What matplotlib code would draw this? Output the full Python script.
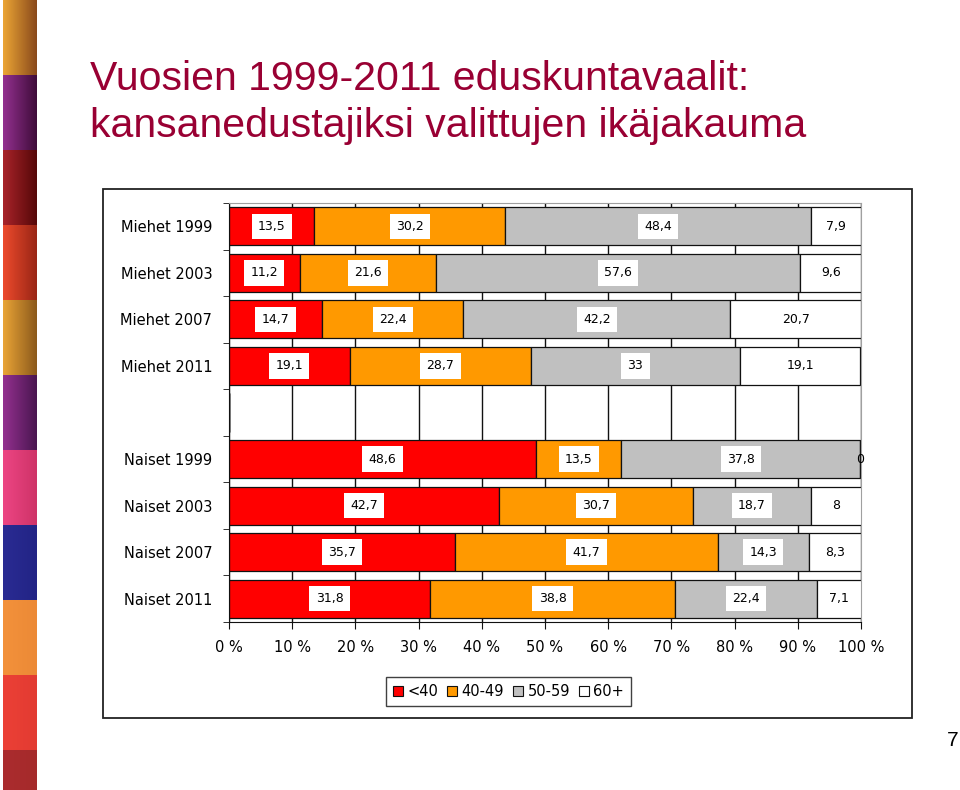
import matplotlib.pyplot as plt
import matplotlib.patches as mpatches
import numpy as np

# rows top to bottom, the empty one separates men and women
rows = ['Miehet 1999', 'Miehet 2003', 'Miehet 2007', 'Miehet 2011', '',
        'Naiset 1999', 'Naiset 2003', 'Naiset 2007', 'Naiset 2011']
groups = ['<40', '40-49', '50-59', '60+']
under40 = [13.5, 11.2, 14.7, 19.1, None, 48.6, 42.7, 35.7, 31.8]
age40_49 = [30.2, 21.6, 22.4, 28.7, None, 13.5, 30.7, 41.7, 38.8]
age50_59 = [48.4, 57.6, 42.2, 33, None, 37.8, 18.7, 14.3, 22.4]
over60 = [7.9, 9.6, 20.7, 19.1, None, 0, 8, 8.3, 7.1]
colors = ['#ff0000', '#ff9900', '#c0c0c0', '#ffffff']
xticks = [0, 10, 20, 30, 40, 50, 60, 70, 80, 90, 100]

# colours of the decorative stripe on the left (light, dark)
stripe = [('#eba535', '#8a4a1c'), ('#93308f', '#3f0c3a'), ('#a8232a', '#560808'),
          ('#ec4a2c', '#9a2616'), ('#e9a436', '#8c5a1c'), ('#93308f', '#4a1650'),
          ('#ec4583', '#cf3368'), ('#2a2b93', '#222485'), ('#f3913b', '#ec8a36'),
          ('#ec4036', '#e23b32'), ('#ab2c2e', '#a52a2b')]

fig = plt.figure(figsize=(9.6, 7.9), dpi=100)

# left stripe, each block shaded from light (left) to dark (right)
sax = fig.add_axes([3 / 960, 0, 33 / 960, 1])
seg_h = 75
n_px = 790
img = np.ones((n_px, 40, 3))
t = np.linspace(0, 1, 40)
for i, (c1, c2) in enumerate(stripe):
    a = np.array(plt.matplotlib.colors.to_rgb(c1))
    b = np.array(plt.matplotlib.colors.to_rgb(c2))
    grad = a[None, :] * (1 - t[:, None]) + b[None, :] * t[:, None]
    img[i * seg_h:min((i + 1) * seg_h, n_px)] = grad[None, :, :]
sax.imshow(img, aspect='auto', interpolation='bilinear')
sax.axis('off')

# title
title_col = '#990033'
fig.text(90 / 960, 1 - 90 / 790, 'Vuosien 1999-2011 eduskuntavaalit:',
         fontsize=29.5, color=title_col, family='Liberation Sans', va='baseline')
fig.text(90 / 960, 1 - 137 / 790, 'kansanedustajiksi valittujen ikäjakauma',
         fontsize=29.5, color=title_col, family='Liberation Sans', va='baseline')
fig.text(958 / 960, 1 - 746 / 790, '7', fontsize=15, family='Liberation Sans',
         ha='right', va='baseline')

# frame around the chart picture
fig.patches.append(mpatches.Rectangle((103 / 960, 1 - 718 / 790), 809 / 960, 529 / 790,
                                      transform=fig.transFigure, fill=False,
                                      edgecolor='#222222', lw=1.3))

ax = fig.add_axes([229 / 960, 1 - 622 / 790, 632 / 960, 419 / 790])
y = np.arange(len(rows))
left = np.zeros(len(rows))
for vals, col in zip([under40, age40_49, age50_59, over60], colors):
    w = np.array([v if v is not None else 0 for v in vals])
    ax.barh(y, w, left=left, height=0.82, color=col, edgecolor='#111111',
            lw=0.9, zorder=2)
    for yi, (v, l0) in enumerate(zip(vals, left)):
        if v is None:
            continue
        box = dict(facecolor='white', edgecolor='none',
                   boxstyle='square,pad=0.5') if v > 0 else None
        ax.text(l0 + v / 2, yi, f'{v:g}'.replace('.', ','), ha='center',
                va='center', fontsize=9, bbox=box, zorder=3)
    left = left + w

ax.set_xlim(0, 100)
ax.set_ylim(len(rows) - 0.5, -0.5)
ax.set_xticks(xticks)
ax.set_xticklabels([f'{v} %' for v in xticks], fontsize=10.5)
ax.set_yticks(y)
ax.set_yticklabels(rows, fontsize=10.5)
ax.set_yticks(np.arange(len(rows) + 1) - 0.5, minor=True)
ax.tick_params(axis='y', which='major', length=0, pad=12)
ax.tick_params(axis='y', which='minor', length=4, direction='out', color='#111111')
ax.tick_params(axis='x', length=5, pad=8, color='#111111')
ax.grid(axis='x', color='#111111', lw=1, zorder=0)
ax.set_axisbelow(True)
ax.spines['top'].set_color('#a0a0a0')
ax.spines['right'].set_color('#a0a0a0')
ax.spines['left'].set_color('#111111')
ax.spines['bottom'].set_color('#111111')

handles = [mpatches.Patch(facecolor=c, edgecolor='#111111', lw=0.8) for c in colors]
fig.legend(handles, groups, loc='center', bbox_to_anchor=(508.5 / 960, 1 - 691.5 / 790),
           ncol=4, fontsize=10.5, frameon=True, fancybox=False, edgecolor='#111111',
           handlelength=0.7, handleheight=0.7, handletextpad=0.3, columnspacing=0.6,
           borderpad=0.45)

fig.savefig('out.png', dpi=100)
